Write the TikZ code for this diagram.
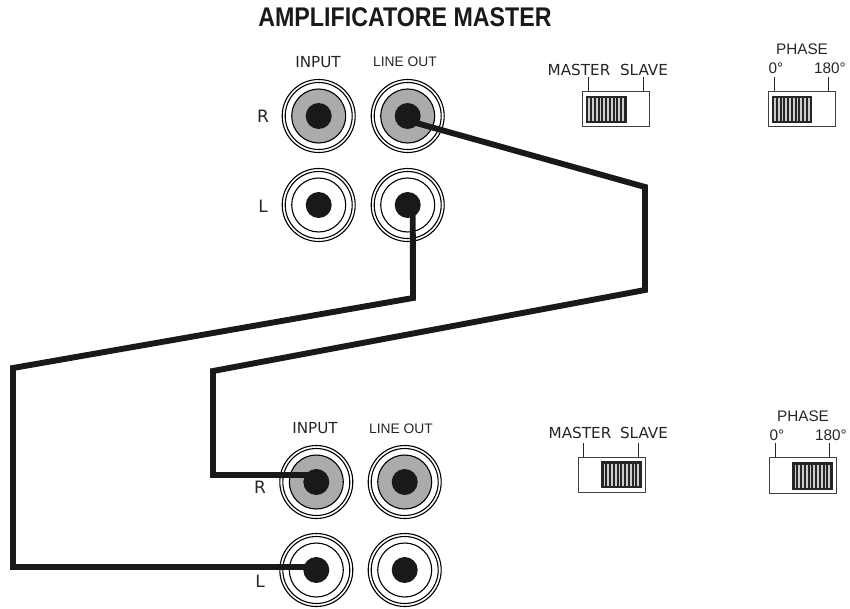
\documentclass[tikz,border=0pt]{standalone}
\usepackage{fontspec}
\usetikzlibrary{calc,positioning}
\setmainfont{Liberation Sans}
\newfontfamily\titlefont[FakeStretch=0.86]{Liberation Sans}
\newfontfamily\verafont{DejaVu Sans}
\definecolor{jackgray}{gray}{0.67}
\tikzset{jack/.style={draw, circle, inner sep=0pt, minimum size=73pt, line width=1.1pt, fill=white,
    path picture={
      \draw[line width=1.1pt] (path picture bounding box.center) circle (33.5pt);
      \draw[line width=1.1pt, fill=#1] (path picture bounding box.center) circle (27pt);
      \fill[black!90] (path picture bounding box.center) circle (13pt);}},
  jack/.default=white}
\tikzstyle{cable}=[line width=5.9pt, black!90, line join=miter]
\tikzstyle{swbox}=[draw, rectangle, inner sep=0pt, minimum width=66.5pt, minimum height=35pt, line width=0.9pt, black!75]
\tikzstyle{tick}=[line width=1pt, black!85]
\tikzstyle{lab}=[inner sep=0pt, font=\verafont\fontsize{15.2}{17}\selectfont, text=black!85]
\tikzstyle{labb}=[inner sep=0pt, font=\fontsize{15.3}{17}\selectfont, text=black!85]
\tikzstyle{lineout}=[inner sep=0pt, font=\fontsize{13.8}{15}\selectfont, text=black!85]
\tikzstyle{side}=[inner sep=0pt, font=\verafont\fontsize{17}{19}\selectfont, text=black!85]
\newcommand{\slider}[3]{% left edge, top, bottom
  \fill[black!85] (#1,#2) rectangle (#1+40.7,#3);
  \foreach \i in {0,...,9} \fill[black!20] (#1+2.4+\i*3.75,#2+2.5) rectangle (#1+4.1+\i*3.75,#3-2.5);
}
\begin{document}
\begin{tikzpicture}[x=1pt, y=-1pt, node distance=89pt]
\useasboundingbox (0,0) rectangle (850,609);
\node[inner sep=0pt, font=\titlefont\bfseries\fontsize{27}{29}\selectfont, text=black!90] (title) at (405,17) {AMPLIFICATORE MASTER};

% upper amplifier
\node[jack=jackgray] at (318.7,116) (S0){};
\node[jack=jackgray][right of =S0] (S1){};
\node[jack][below of =S0] (S2){};
\node[jack][right of =S2] (S3){};
\node[lab] (in0) at (318,62) {INPUT};
\node[lineout] (out0) at (405,62) {LINE OUT};
\node[side] (r0) at (263,116) {R};
\node[side] (l0) at (263,206) {L};

% lower amplifier
\node[jack=jackgray] at (316.3,482) (T0){};
\node[jack=jackgray][right of =T0, node distance=88.4pt] (T1){};
\node[jack][below of =T0, node distance=88pt] (T2){};
\node[jack][right of =T2, node distance=88.4pt] (T3){};
\node[lab] (in1) at (315,428) {INPUT};
\node[lineout] (out1) at (401,429) {LINE OUT};
\node[side] (r1) at (260,487) {R};
\node[side] (l1) at (260,581) {L};

% switches
\node[swbox] (mast0) at (616,108.8) {};
\node[swbox] (phas0) at (802,108.8) {};
\node[swbox] (mast1) at (612,475) {};
\node[swbox, minimum height=36.5pt] (phas1) at (802.8,475.3) {};
\slider{586}{95.7}{123.3}
\slider{771.7}{95.7}{123.3}
\slider{601.3}{461}{488.3}
\slider{792.3}{462.3}{490}
\draw[tick] (mast0.north west)++(6,0) -- ++(0,-14);
\draw[tick] (mast0.north east)++(-6.5,0) -- ++(0,-14);
\draw[tick] (phas0.north west)++(6.5,0) -- ++(0,-14);
\draw[tick] (phas0.north east)++(-7.5,0) -- ++(0,-14);
\draw[tick] (mast1.north west)++(5.6,0) -- ++(0,-14);
\draw[tick] (mast1.north east)++(-7,0) -- ++(0,-14);
\draw[tick] (phas1.north west)++(6.4,0) -- ++(0,-14);
\draw[tick] (phas1.north east)++(-7.3,0) -- ++(0,-14);
\node[lab] (ms0) at (579,70) {MASTER};
\node[lab] (sl0) at (644,70) {SLAVE};
\node[labb] (ph0) at (802,49) {PHASE};
\node[labb] (z0) at (776,68) {0°};
\node[labb] (o0) at (830,68) {180°};
\node[lab] (ms1) at (580,433) {MASTER};
\node[lab] (sl1) at (644,433) {SLAVE};
\node[labb] (ph1) at (803,416) {PHASE};
\node[labb] (z1) at (777,435) {0°};
\node[labb] (o1) at (831,435) {180°};

% cables
\coordinate (A1) at (645,187);
\coordinate (A2) at (645,290);
\coordinate (A3) at (213,371);
\coordinate (A4) at (213,475);
\coordinate (B1) at (413,298);
\coordinate (B2) at (13,368);
\coordinate (B3) at (13,567);
\draw[cable] ([xshift=5pt,yshift=-6pt]S1.center) -- (A1) -- (A2) -- (A3) -- (A4) -- ([yshift=7pt]T0.center);
\draw[cable] ([xshift=5pt]S3.center) -- (B1) -- (B2) -- (B3) -- ([yshift=3pt]T2.center);
\end{tikzpicture}
\end{document}
